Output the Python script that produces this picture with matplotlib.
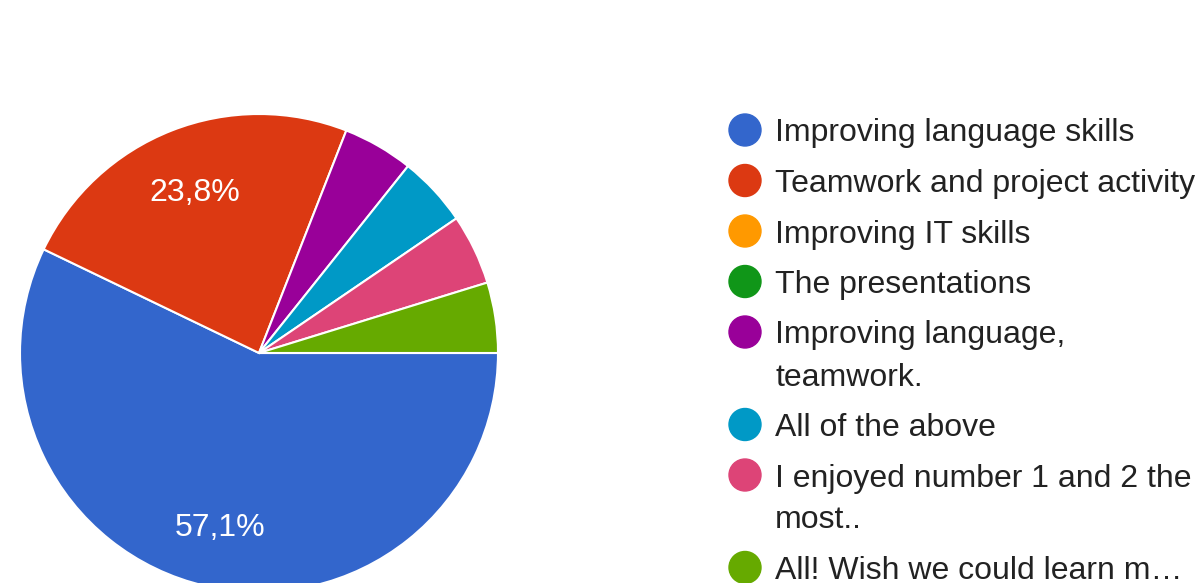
import matplotlib
matplotlib.use('Agg')
import matplotlib.pyplot as plt
from matplotlib.patches import Circle

plt.rcParams['font.family'] = ['Liberation Sans', 'DejaVu Sans']

# respuestas (21 en total)
etiquetas = [
    'Improving language skills',
    'Teamwork and project activity',
    'Improving IT skills',
    'The presentations',
    'Improving language,\nteamwork.',
    'All of the above',
    'I enjoyed number 1 and 2 the\nmost..',
    'All! Wish we could learn m\u2026',
]
respuestas = [12, 5, 0, 0, 1, 1, 1, 1]
colores = ['#3366cc', '#dc3912', '#ff9900', '#109618',
           '#990099', '#0099c6', '#dd4477', '#66aa00']

W, H = 1197, 583
fig = plt.figure(figsize=(W / 100, H / 100), dpi=100)

# pastel: centro (259, 353) px, radio 239 px
cx, cy, r = 259, 353, 239
ax = fig.add_axes([(cx - r) / W, (H - cy - r) / H, 2 * r / W, 2 * r / H])

vals = [v for v in respuestas if v > 0]
cols = [c for v, c in zip(respuestas, colores) if v > 0]


def fmt(p):
    if p < 10:
        return ''
    return f'{p:.1f}'.replace('.', ',') + '%'


wedges, textos, autotextos = ax.pie(
    vals, colors=cols, startangle=0, counterclock=False, radius=1,
    autopct=fmt, pctdistance=0.735,
    wedgeprops=dict(edgecolor='white', linewidth=1.5),
    textprops=dict(color='white', fontsize=23))
for t in autotextos:
    t.set_va('center_baseline')
ax.set_xlim(-1, 1)
ax.set_ylim(-1, 1)
ax.set_aspect('auto')
ax.axis('off')

# leyenda manual, en coordenadas de pixel
lg = fig.add_axes([0, 0, 1, 1])
lg.set_xlim(0, W)
lg.set_ylim(H, 0)
lg.axis('off')
y = 130
for lab, col in zip(etiquetas, colores):
    lineas = lab.split('\n')
    lg.add_patch(Circle((745, y), 16, color=col, clip_on=False))
    for i, linea in enumerate(lineas):
        lg.text(775, y + 42 * i, linea, fontsize=23, color='#222222',
                va='center_baseline', ha='left')
    y += 42 * (len(lineas) - 1) + 50.5

fig.savefig('out.png', dpi=100)
